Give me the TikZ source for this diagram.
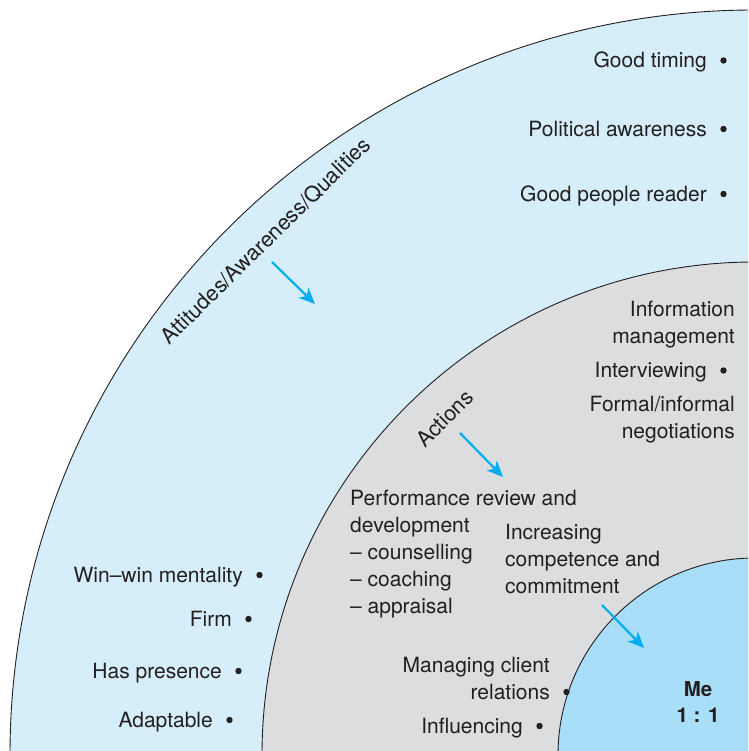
\documentclass[tikz,border=0pt]{standalone}
\usepackage{fontspec}
\setmainfont{TeX Gyre Heros}
\usetikzlibrary{positioning}
\usetikzlibrary{calc}
\usetikzlibrary{arrows.meta}
\definecolor{outerblue}{RGB}{214,237,250}
\definecolor{ringgray}{RGB}{220,221,223}
\definecolor{innerblue}{RGB}{168,222,248}
\definecolor{arrowcyan}{RGB}{0,174,239}
\definecolor{ink}{RGB}{35,31,32}

\tikzset{
    ring/.style={draw=ink, line width=0.9pt},
    lbl/.style={inner sep=0pt, text=ink, font=\fontsize{21}{27}\selectfont},
    ringlbl/.style={inner sep=0pt, text=ink, font=\fontsize{21.5}{24}\selectfont},
    flow/.style={arrowcyan, line width=2.2pt, -{Stealth[length=16pt, width=14pt, inset=4.5pt]}},
}

\begin{document}
\begin{tikzpicture}[x=1pt, y=1pt]
    \useasboundingbox (0,0) rectangle (748,751);
    \clip (0,0) rectangle (748,751);
    \coordinate (ctr) at (755,-4);

    % rings
    \filldraw[ring, fill=outerblue] (ctr) circle (745);
    \filldraw[ring, fill=ringgray] (ctr) circle (493);
    \filldraw[ring, fill=innerblue] (ctr) circle (197);

    % ring titles
    \node[ringlbl, rotate=44.5] (att) at ($(ctr)+(133.6:710)$) {Attitudes/Awareness/Qualities};
    \node[ringlbl, rotate=45] (act) at ($(ctr)+(132.7:458)$) {Actions};

    % outer ring
    \node[lbl, anchor=base east] (tim) at (707,683) {Good timing};
    \node[lbl, anchor=base east] (pol) at (707,614.5) {Political awareness};
    \node[lbl, anchor=base east] (rdr) at (707,549.5) {Good people reader};
    \node[lbl, anchor=base east] (win) at (243,168.5) {Win--win mentality};
    \node[lbl, anchor=base east] (firm) at (232,124.5) {Firm};
    \node[lbl, anchor=base east] (pres) at (222,72.5) {Has presence};
    \node[lbl, anchor=base east] (adapt) at (213,23.5) {Adaptable};

    % middle ring (multi-line nodes sit on their last line)
    \node[lbl, align=right, anchor=base east] (info) at (735,407) {Information\\management};
    \node[lbl, anchor=base east] (intv) at (707,373) {Interviewing};
    \node[lbl, align=right, anchor=base east] (neg) at (735,312) {Formal/informal\\negotiations};
    \node[lbl, align=left, anchor=base west] (perf) at (350,137.5) {Performance review and\\development\\-- counselling\\-- coaching\\-- appraisal};
    \node[lbl, align=left, anchor=base west] (incr) at (505,157) {Increasing\\competence and\\commitment};
    \node[lbl, align=right, anchor=base east] (mcr) at (550,51.5) {Managing client\\relations};
    \node[lbl, anchor=base east] (infl) at (523,17.5) {Influencing};

    % inner ring
    \node[lbl, align=center, font=\bfseries\fontsize{20.5}{26}\selectfont] (me) at (698,49) {Me\\1 : 1};

    % bullets
    \foreach \n in {tim,pol,rdr,win,firm,pres,adapt,intv,infl,info,neg,mcr} {
        \fill[ink] ($(\n.base east)+(16.5,7.5)$) circle (3.2);
    }

    % arrows
    \coordinate (a1s) at (272,489);
    \coordinate (a1e) at (315,447);
    \coordinate (a2s) at (460,318);
    \coordinate (a2e) at (503,274);
    \coordinate (a3s) at (602,146);
    \coordinate (a3e) at (644,103);
    \draw[flow] (a1s) -- (a1e);
    \draw[flow] (a2s) -- (a2e);
    \draw[flow] (a3s) -- (a3e);
\end{tikzpicture}
\end{document}
